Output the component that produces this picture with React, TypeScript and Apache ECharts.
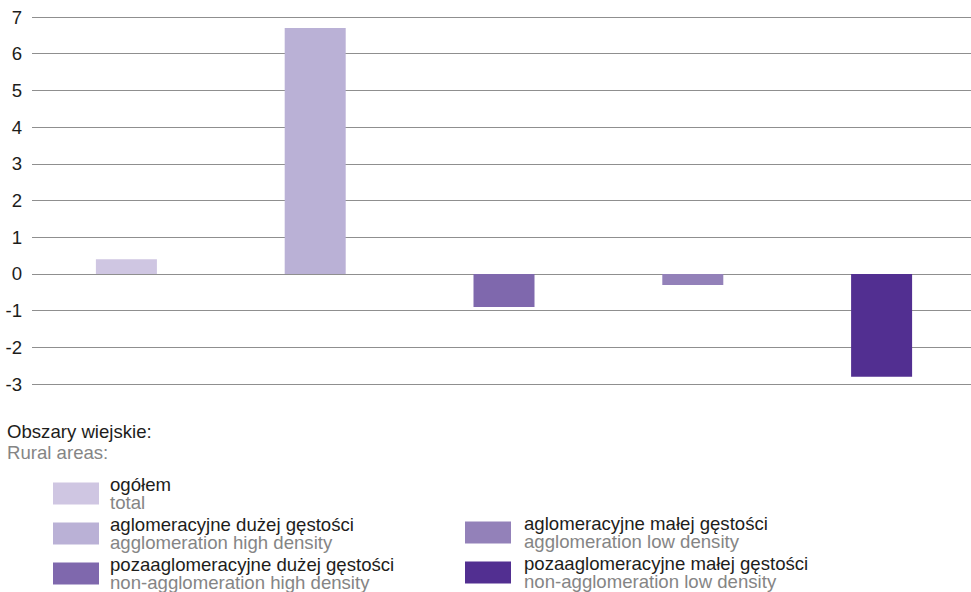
import React, { useEffect, useRef } from "react";
import * as echarts from "echarts";

const categoriesPl = [
  "ogółem",
  "aglomeracyjne dużej gęstości",
  "pozaaglomeracyjne dużej gęstości",
  "aglomeracyjne małej gęstości",
  "pozaaglomeracyjne małej gęstości",
];
const categoriesEn = [
  "total",
  "agglomeration high density",
  "non-agglomeration high density",
  "agglomeration low density",
  "non-agglomeration low density",
];
const values = [0.4, 6.7, -0.9, -0.3, -2.8];
const colors = ["#CFC6E2", "#BAB1D6", "#7F68AD", "#9381B9", "#522F91"];
const yTicks = [-3, -2, -1, 0, 1, 2, 3, 4, 5, 6, 7];

const FONT = 'Arial, "Liberation Sans", sans-serif';
const FS = 18.6;
const DARK = "#1d1d1b";
const GRAY = "#858585";

export default function App() {
  const ref = useRef<HTMLDivElement>(null);
  useEffect(() => {
    if (!ref.current) return;
    const chart = echarts.init(ref.current, undefined, { renderer: "svg" });
    const series = categoriesPl.map((name, i) => ({
      name,
      type: "bar",
      stack: "all",
      barWidth: 61,
      itemStyle: { color: colors[i] },
      data: categoriesPl.map((_, j) => (j === i ? values[i] : null)),
    }));
    const enMap: Record<string, string> = {};
    categoriesPl.forEach((n, i) => (enMap[n] = categoriesEn[i]));
    const makeLegend = (left: number, top: number, data: string[], pad: number) => ({
      orient: "vertical",
      left,
      top,
      height: 140,
      data,
      padding: 0,
      itemWidth: 46,
      itemHeight: 22,
      itemGap: 3,
      icon: "rect",
      selectedMode: false,
      formatter: (name: string) => `{a|${name}}\n{b|${enMap[name]}}`,
      textStyle: {
        rich: {
          a: { fontSize: FS, color: DARK, fontFamily: FONT, lineHeight: 18, padding: [0, 0, 0, pad] },
          b: { fontSize: FS, color: GRAY, fontFamily: FONT, lineHeight: 18, padding: [0, 0, 0, pad] },
        },
      },
    });
    chart.setOption({
      animation: false,
      textStyle: { fontFamily: FONT },
      title: {
        left: 7,
        top: 422,
        padding: 0,
        itemGap: 2,
        text: "Obszary wiejskie:",
        subtext: "Rural areas:",
        textStyle: { fontSize: FS, lineHeight: 19, fontWeight: "normal", color: DARK, fontFamily: FONT },
        subtextStyle: { fontSize: FS, lineHeight: 19, color: GRAY, fontFamily: FONT },
      },
      legend: [
        makeLegend(53, 475, categoriesPl.slice(0, 3), 6),
        makeLegend(465, 514, categoriesPl.slice(3, 5), 8),
      ],
      grid: { left: 32, width: 944, top: 17, height: 367 },
      xAxis: {
        type: "category",
        data: categoriesPl,
        axisLine: { show: false },
        axisTick: { show: false },
        axisLabel: { show: false },
      },
      yAxis: {
        type: "value",
        min: yTicks[0],
        max: yTicks[yTicks.length - 1],
        interval: 1,
        axisLabel: { fontSize: FS, color: DARK, margin: 10, fontFamily: FONT },
        splitLine: { lineStyle: { color: "#8f8f8f", width: 1 } },
        axisLine: { show: false },
        axisTick: { show: false },
      },
      series,
    });
    return () => chart.dispose();
  }, []);
  return (
    <div
      style={{ position: "fixed", left: 0, top: 0, width: 971, height: 592, overflow: "hidden", background: "#fff" }}
    >
      <div ref={ref} style={{ width: 980, height: 592 }} />
    </div>
  );
}
